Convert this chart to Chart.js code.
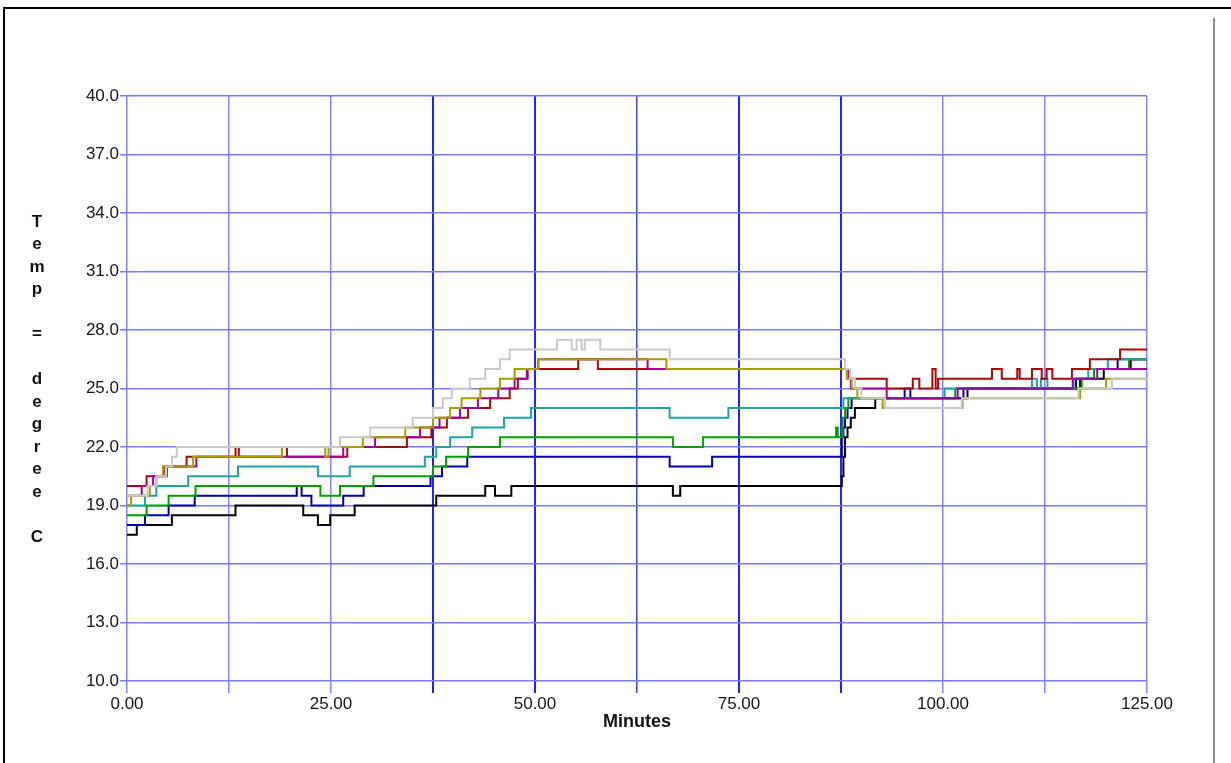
<!DOCTYPE html>
<html>
<head>
<meta charset="utf-8">
<script src="https://cdn.jsdelivr.net/npm/chart.js@4/dist/chart.umd.min.js"></script>
<style>
  html, body { margin: 0; padding: 0; background: #ffffff; }
  #wrap { position: relative; width: 1231px; height: 763px; overflow: hidden; }
  #plot { position: absolute; left: 0; top: 0; }
  .rule { position: absolute; }
  #frameTop { left: 3px; top: 7px; width: 1228px; height: 2px; background: #000; }
  #frameLeft { left: 3px; top: 7px; width: 2px; height: 756px; background: #000; }
  #sideRule { left: 1213px; top: 18px; width: 2px; height: 745px; background: #8a8a8a; }
</style>
</head>
<body>
<div id="wrap">
  <canvas id="plot" width="1231" height="763"></canvas>
  <div class="rule" id="frameTop"></div>
  <div class="rule" id="frameLeft"></div>
  <div class="rule" id="sideRule"></div>
</div>
<script>
// Sensor readings: each pair of arrays lists the minute at which a reading
// changes and the temperature (deg C) held from that minute on.
const blackMin  = [0, 1.2, 5.5, 13.3, 21.6, 23.4, 24.9, 27.9, 37.9, 43.9, 45.1, 47.1, 66.9, 67.8, 87.6, 87.8, 88.0, 88.3, 88.7, 89.2, 91.7, 103.0, 116.8, 119.7, 123.0, 125];
const blackTemp = [17.5, 18.0, 18.5, 19.0, 18.5, 18.0, 18.5, 19.0, 19.5, 20.0, 19.5, 20.0, 19.5, 20.0, 20.5, 21.5, 22.5, 23.0, 23.5, 24.0, 24.5, 25.0, 25.5, 26.0, 26.5, 26.5];

const blueMin  = [0, 2.2, 5.1, 8.3, 20.8, 21.4, 22.6, 26.5, 29.0, 37.2, 38.6, 41.7, 66.5, 71.7, 87.6, 87.8, 88.0, 88.3, 88.8, 95.3, 96.0, 102.5, 116.3, 118.5, 121.4, 125];
const blueTemp = [18.0, 18.5, 19.0, 19.5, 20.0, 19.5, 19.0, 19.5, 20.0, 20.5, 21.0, 21.5, 21.0, 21.5, 22.5, 23.0, 23.5, 24.0, 24.5, 25.0, 24.5, 25.0, 25.5, 26.0, 26.5, 26.5];

const greenMin  = [0, 2.4, 5.1, 8.4, 23.7, 26.1, 30.2, 37.5, 39.1, 41.8, 45.7, 66.9, 70.6, 86.9, 87.1, 87.7, 88.0, 88.4, 101.5, 117.0, 118.5, 122.8, 125];
const greenTemp = [18.5, 19.0, 19.5, 20.0, 19.5, 20.0, 20.5, 21.0, 21.5, 22.0, 22.5, 22.0, 22.5, 23.0, 22.5, 23.5, 24.0, 24.5, 25.0, 25.5, 26.0, 26.5, 26.5];

const tealMin  = [0, 2.2, 3.6, 7.5, 13.6, 23.4, 27.3, 36.5, 37.9, 39.6, 42.3, 46.2, 49.5, 66.5, 73.7, 87.8, 100.2, 110.9, 111.5, 112.0, 112.8, 116.0, 117.8, 120.2, 125];
const tealTemp = [19.0, 19.5, 20.0, 20.5, 21.0, 20.5, 21.0, 21.5, 22.0, 22.5, 23.0, 23.5, 24.0, 23.5, 24.0, 24.5, 25.0, 25.5, 25.0, 25.5, 25.0, 25.5, 26.0, 26.5, 26.5];

const redMin  = [0, 2.4, 4.5, 7.3, 13.3, 13.7, 19.0, 19.6, 27.0, 34.3, 37.3, 39.2, 41.8, 44.5, 46.9, 47.9, 49.1, 55.3, 57.7, 88.6, 93.1, 96.3, 97.1, 98.7, 99.1, 99.4, 106.0, 107.2, 109.1, 109.4, 110.9, 112.1, 112.7, 113.4, 115.8, 118.0, 121.7, 125];
const redTemp = [20.0, 20.5, 21.0, 21.5, 22.0, 21.5, 22.0, 21.5, 22.0, 22.5, 23.0, 23.5, 24.0, 24.5, 25.0, 25.5, 26.0, 26.5, 26.0, 25.5, 25.0, 25.5, 25.0, 26.0, 25.0, 25.5, 26.0, 25.5, 26.0, 25.5, 26.0, 25.5, 26.0, 25.5, 26.0, 26.5, 27.0, 27.0];

const purpleMin  = [0, 1.8, 3.2, 4.9, 8.5, 26.5, 30.4, 35.9, 38.3, 40.8, 43.0, 45.5, 47.5, 49.0, 50.4, 63.8, 88.4, 88.7, 93.1, 101.8, 115.9, 118.9, 125];
const purpleTemp = [19.5, 20.0, 20.5, 21.0, 21.5, 22.0, 22.5, 23.0, 23.5, 24.0, 24.5, 25.0, 25.5, 26.0, 26.5, 26.0, 25.5, 25.0, 24.5, 25.0, 25.5, 26.0, 26.0];

const oliveMin  = [0, 0.5, 2.8, 3.6, 4.4, 8.1, 19.0, 24.3, 24.7, 28.9, 34.1, 37.5, 39.6, 41.0, 43.3, 45.7, 47.5, 50.4, 66.1, 88.2, 88.8, 89.5, 92.6, 102.4, 116.8, 120.0, 125];
const oliveTemp = [19.0, 19.5, 20.0, 20.5, 21.0, 21.5, 22.0, 21.5, 22.0, 22.5, 23.0, 23.5, 24.0, 24.5, 25.0, 25.5, 26.0, 26.5, 26.0, 25.5, 25.0, 24.5, 24.0, 24.5, 25.0, 25.5, 25.5];

const grayMin  = [0, 2.5, 3.6, 4.8, 5.5, 6.1, 26.1, 29.8, 35.0, 37.5, 38.7, 39.8, 42.0, 43.9, 45.7, 46.9, 52.7, 54.5, 55.1, 55.7, 56.1, 58.0, 66.5, 88.0, 88.6, 89.2, 90.0, 92.9, 102.3, 116.6, 120.7, 125];
const grayTemp = [19.5, 20.0, 20.5, 21.0, 21.5, 22.0, 22.5, 23.0, 23.5, 24.0, 24.5, 25.0, 25.5, 26.0, 26.5, 27.0, 27.5, 27.0, 27.5, 27.0, 27.5, 27.0, 26.5, 26.0, 25.5, 25.0, 24.5, 24.0, 24.5, 25.0, 25.5, 25.5];

// Axis tick labels
const xTickLabels = ['0.00', '25.00', '50.00', '75.00', '100.00', '125.00'];
const yTickLabels = ['10.0', '13.0', '16.0', '19.0', '22.0', '25.0', '28.0', '31.0', '34.0', '37.0', '40.0'];
const yTitle = 'Temp = degree C';
const xTitle = 'Minutes';

// Datasets listed top-most first (Chart.js paints index 0 last).
const series = [
  { min: grayMin,   temp: grayTemp,   color: '#c9c9c9' },
  { min: oliveMin,  temp: oliveTemp,  color: '#a3a000' },
  { min: purpleMin, temp: purpleTemp, color: '#a000a0' },
  { min: redMin,    temp: redTemp,    color: '#a80808' },
  { min: tealMin,   temp: tealTemp,   color: '#1fa3a3' },
  { min: greenMin,  temp: greenTemp,  color: '#00a000' },
  { min: blueMin,   temp: blueTemp,   color: '#0000a8' },
  { min: blackMin,  temp: blackTemp,  color: '#000000' }
];

const datasets = series.map(s => ({
  data: s.min.map((m, i) => ({ x: m, y: s.temp[i] })),
  borderColor: s.color,
  borderWidth: 2,
  stepped: true,
  pointRadius: 0,
  fill: false
}));

const FONT = '"Liberation Sans", Arial, sans-serif';

// Vertical title written one character per line
const stackedTitle = {
  id: 'stackedTitle',
  afterDraw(chart) {
    const ctx = chart.ctx;
    ctx.save();
    ctx.font = 'bold 17px ' + FONT;
    ctx.fillStyle = '#111';
    ctx.textAlign = 'center';
    ctx.textBaseline = 'middle';
    [...yTitle].forEach((ch, i) => {
      if (ch !== ' ') ctx.fillText(ch, 37, 222 + i * 22.5);
    });
    ctx.restore();
  }
};

const strongX = new Set([3, 4, 6, 7]);
const mediumX = new Set([5]);

new Chart(document.getElementById('plot'), {
  type: 'line',
  data: { datasets },
  plugins: [stackedTitle],
  options: {
    responsive: false,
    animation: false,
    events: [],
    layout: { padding: { top: 96, right: 84, bottom: 0, left: 0 } },
    plugins: { legend: { display: false }, tooltip: { enabled: false } },
    scales: {
      x: {
        type: 'linear',
        min: 0,
        max: 125,
        afterFit: s => { s.height = 82; },
        border: { display: false },
        grid: {
          tickLength: 12,
          color: c => strongX.has(c.index) ? '#2323ff' : (mediumX.has(c.index) ? '#4040ff' : '#8585ff'),
          lineWidth: c => strongX.has(c.index) ? 2 : 1.5
        },
        ticks: {
          stepSize: 12.5,
          autoSkip: false,
          maxRotation: 0,
          padding: 1,
          color: '#151515',
          font: { family: FONT, size: 17 },
          callback: (v, i) => (i % 2 === 0 ? xTickLabels[i / 2] : '')
        },
        title: {
          display: true,
          text: xTitle,
          color: '#111',
          font: { family: FONT, size: 18, weight: 'bold' },
          padding: { top: 0, bottom: 30 }
        }
      },
      y: {
        min: 10,
        max: 40,
        afterFit: s => { s.width = 127; },
        border: { display: false },
        grid: { tickLength: 7, color: '#7a7aff', lineWidth: 1.5 },
        ticks: {
          stepSize: 3,
          padding: 1,
          color: '#151515',
          font: { family: FONT, size: 17 },
          callback: (v, i) => yTickLabels[i]
        }
      }
    }
  }
});
</script>
</body>
</html>
